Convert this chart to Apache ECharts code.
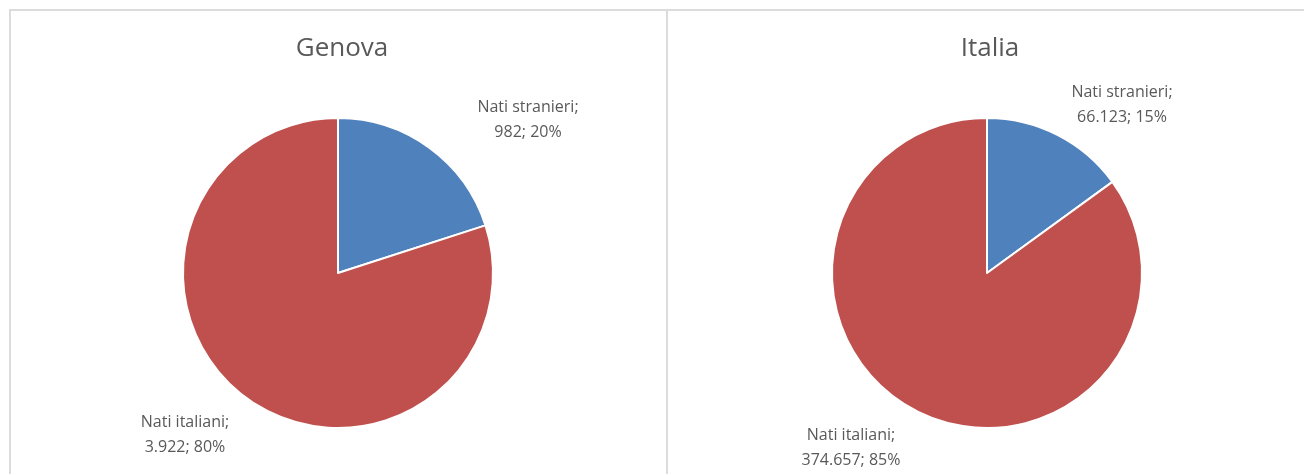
<!DOCTYPE html>
<html>
<head>
<meta charset="utf-8">
<script src="https://cdn.jsdelivr.net/npm/echarts@6/dist/echarts.min.js"></script>
<style>
  html, body { margin: 0; padding: 0; background: #fff; }
  #main { position: absolute; left: 0; top: 0; width: 1304px; height: 474px; }
  .panel { position: absolute; top: 9px; height: 520px; border: 2px solid #dcdcdc; box-sizing: border-box; pointer-events: none; }
</style>
</head>
<body>
<div id="main"></div>
<div class="panel" style="left:9px; width:659px;"></div>
<div class="panel" style="left:666px; width:700px;"></div>
<script>
// dati
var categorie = ["Nati stranieri", "Nati italiani"];
var genova = [982, 3922];
var italia = [66123, 374657];
var titoli = ["Genova", "Italia"];
var colori = ["#4F81BD", "#C0504D"];

// posizione etichette (x, y centro) per ogni grafico
var posEtichette = [
    [[528, 120], [185, 435]],
    [[1122, 105], [851, 448]]
];

function formatNum(n) {
    return String(n).replace(/\B(?=(\d{3})+(?!\d))/g, ".");
}

function makeSerie(idx, valori, cx) {
    return {
        type: "pie",
        center: [cx, 273],
        radius: 155,
        startAngle: 90,
        clockwise: true,
        animation: false,
        silent: true,
        itemStyle: { borderColor: "#fff", borderWidth: 2 },
        label: {
            show: true,
            position: "outside",
            color: "#595959",
            fontSize: 16,
            lineHeight: 25,
            fontFamily: "Open Sans",
            align: "center",
            formatter: function (p) {
                return p.name + ";\n" + formatNum(p.value) + "; " + Math.round(p.percent) + "%";
            }
        },
        labelLine: { show: false },
        labelLayout: function (p) {
            var pos = posEtichette[idx][p.dataIndex];
            return { x: pos[0], y: pos[1], align: "center", verticalAlign: "middle" };
        },
        data: categorie.map(function (c, i) {
            return { name: c, value: valori[i], itemStyle: { color: colori[i] } };
        })
    };
}

var chart = echarts.init(document.getElementById("main"));
chart.setOption({
    backgroundColor: "#fff",
    title: [
        { text: titoli[0], left: 337, top: 31, textAlign: "center",
          textStyle: { color: "#595959", fontSize: 26, fontWeight: "normal", fontFamily: "Open Sans" } },
        { text: titoli[1], left: 985, top: 31, textAlign: "center",
          textStyle: { color: "#595959", fontSize: 26, fontWeight: "normal", fontFamily: "Open Sans" } }
    ],
    series: [
        makeSerie(0, genova, 338),
        makeSerie(1, italia, 987)
    ]
});
</script>
</body>
</html>
